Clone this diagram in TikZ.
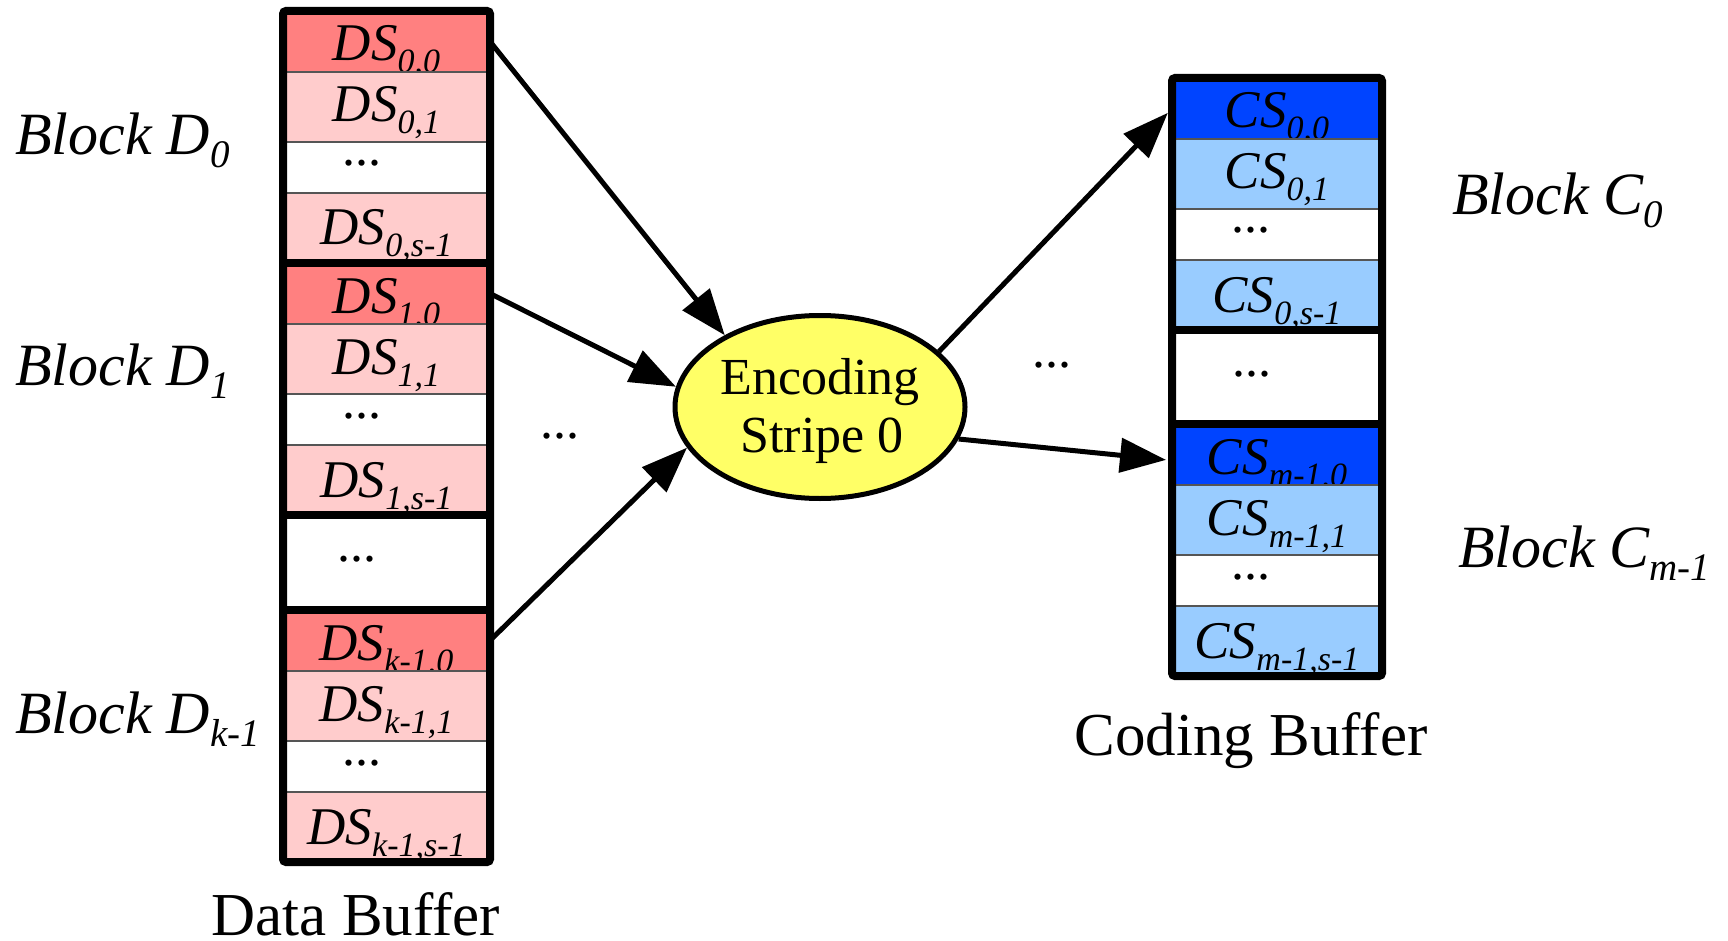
\documentclass[tikz,border=0pt]{standalone}
\usepackage{fontspec}
\setmainfont{Liberation Serif}
\usetikzlibrary{arrows.meta,shapes.geometric}

\definecolor{dsdark}{HTML}{FF8080}
\definecolor{dslight}{HTML}{FFCCCC}
\definecolor{csdark}{HTML}{0044FF}
\definecolor{cslight}{HTML}{99CCFF}
\definecolor{encfill}{HTML}{FFFF66}
\definecolor{rulegray}{HTML}{555555}

% stripe label such as DS_{0,1}
\newcommand\slab[2]{{\fontsize{53}{60}\selectfont\itshape #1\raisebox{-12pt}{\fontsize{34}{34}\selectfont #2}}}
% block label such as Block D_0
\newcommand\blab[2]{{\fontsize{60}{66}\selectfont\itshape Block #1\raisebox{-13pt}{\fontsize{39}{39}\selectfont #2}}}

\tikzset{
  rowbox/.style={rectangle, anchor=north west, inner sep=0pt, outer sep=0pt,
    draw=rulegray, line width=1.2pt},
  celltext/.style={anchor=base, inner sep=0pt},
  dotstext/.style={anchor=base, inner sep=0pt, font=\fontsize{52}{60}\selectfont},
  enctext/.style={anchor=base, inner sep=0pt, font=\fontsize{52}{60}\selectfont},
  blocklabel/.style={anchor=base west, inner sep=0pt},
  buflabel/.style={anchor=base, inner sep=0pt, font=\fontsize{61}{70}\selectfont},
  frame/.style={line width=8pt, rounded corners=3pt},
  seam/.style={line width=8pt},
  flow/.style={line width=5pt, -{Triangle[length=46pt,width=34pt]}},
}

% one block of four stripes:
% #1 left x, #2 top y, #3 width, #4 name prefix, #5 letter, #6 block index,
% #7 first-stripe fill, #8 other-stripe fill
\newcommand\bufblock[8]{%
  \node[rowbox, minimum width=#3pt, minimum height=61pt, fill=#7] (#40) at (#1,#2) {};
  \node[celltext] (#4t0) at (#1+#3/2,#2+50) {\slab{#5S}{#6,0}};
  \node[rowbox, minimum width=#3pt, minimum height=70pt, fill=#8] (#41) at (#1,#2+61) {};
  \node[celltext] (#4t1) at (#1+#3/2,#2+111) {\slab{#5S}{#6,1}};
  \node[rowbox, minimum width=#3pt, minimum height=51pt, fill=white] (#42) at (#1,#2+131) {};
  \node[dotstext] (#4t2) at (#1+79,#2+155) {...};
  \node[rowbox, minimum width=#3pt, minimum height=70pt, fill=#8] (#43) at (#1,#2+182) {};
  \node[celltext] (#4t3) at (#1+#3/2,#2+234) {\slab{#5S}{#6,s-1}};
}

\begin{document}
\begin{tikzpicture}[x=1pt,y=-1pt]
\useasboundingbox[fill=white] (0,0) rectangle (1728,941);

% data buffer
\bufblock{283}{11}{207}{d0}{D}{0}{dsdark}{dslight}
\bufblock{283}{263}{207}{d1}{D}{1}{dsdark}{dslight}
\node[rowbox, fill=white, minimum width=207pt, minimum height=95pt] (dgap) at (283,515) {};
\node[dotstext] (dgapdots) at (357,561) {...};
\bufblock{283}{610}{207}{dk}{D}{k-1}{dsdark}{dslight}
\draw[seam] (d03.south west) -- (d03.south east);
\draw[seam] (d13.south west) -- (d13.south east);
\draw[seam] (dk0.north west) -- (dk0.north east);
\draw[frame] (d00.north west) rectangle (dk3.south east);

% coding buffer
\bufblock{1172}{78}{210}{c0}{C}{0}{csdark}{cslight}
\node[rowbox, fill=white, minimum width=210pt, minimum height=94pt] (cgap) at (1172,330) {};
\node[dotstext] (cgapdots) at (1252,376) {...};
\bufblock{1172}{424}{210}{cm}{C}{m-1}{csdark}{cslight}
\draw[seam] (c03.south west) -- (c03.south east);
\draw[seam] (cm0.north west) -- (cm0.north east);
\draw[frame] (c00.north west) rectangle (cm3.south east);

% block labels
\node[blocklabel] (bd0) at (15,155) {\blab{D}{0}};
\node[blocklabel] (bd1) at (15,385) {\blab{D}{1}};
\node[blocklabel] (bdk) at (15,733) {\blab{D}{k-1}};
\node[blocklabel] (bc0) at (1452,215) {\blab{C}{0}};
\node[blocklabel] (bcm) at (1458,567) {\blab{C}{m-1}};

% buffer captions
\node[buflabel] (dbuf) at (356,935) {Data Buffer};
\node[buflabel] (cbuf) at (1251,755) {Coding Buffer};

% encoder
\node[ellipse, draw, line width=5pt, fill=encfill, minimum width=290pt,
  minimum height=183pt, inner sep=0pt] (enc) at (820,407) {};
\node[enctext] (enc1) at (820,394) {Encoding};
\node[enctext] (enc2) at (822,452) {Stripe 0};

% elided inputs / outputs
\node[dotstext] (indots) at (560,438) {...};
\node[dotstext] (outdots) at (1052,367) {...};

% data flow
\draw[flow] (d00.east) -- (enc.143);
\draw[flow] (d10.east) -- (enc.172);
\draw[flow] (dk0.east) -- (enc.197);
\draw[flow, shorten >=6pt] (enc.25) -- (c00.west);
\draw[flow, shorten >=6pt] (enc.347) -- ([yshift=-6pt]cm0.west);
\end{tikzpicture}
\end{document}
